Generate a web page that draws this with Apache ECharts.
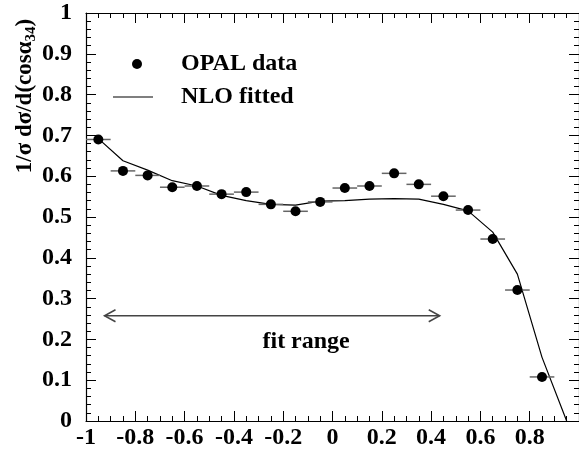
<!DOCTYPE html>
<html>
<head>
<meta charset="utf-8">
<script src="https://cdn.jsdelivr.net/npm/echarts@6/dist/echarts.min.js"></script>
<style>
html,body{margin:0;padding:0;background:#fff;}
#chart{width:579px;height:450px;}
</style>
</head>
<body>
<div id="chart"></div>
<script>
// ---- data ----
var binCenters = [-0.95,-0.85,-0.75,-0.65,-0.55,-0.45,-0.35,-0.25,-0.15,-0.05,0.05,0.15,0.25,0.35,0.45,0.55,0.65,0.75,0.85];
var opalValues = [0.690,0.613,0.602,0.573,0.576,0.556,0.561,0.531,0.514,0.537,0.571,0.576,0.607,0.580,0.551,0.517,0.446,0.321,0.108];
var binHalfWidth = 0.05;
var nloX = [-0.95,-0.85,-0.75,-0.65,-0.55,-0.45,-0.35,-0.25,-0.15,-0.05,0.05,0.15,0.25,0.35,0.45,0.55,0.65,0.75,0.85,0.95];
var nloValues = [0.692,0.638,0.615,0.589,0.576,0.553,0.540,0.531,0.529,0.539,0.540,0.544,0.545,0.544,0.531,0.515,0.463,0.360,0.156,0.0];
var fitRange = [-0.925, 0.435];
var fitArrowY = 0.258;
var fitLabel = 'fit range';
var fitLabelPos = [-0.107, 0.193];
var xTickLabels = ['-1','-0.8','-0.6','-0.4','-0.2','0','0.2','0.4','0.6','0.8'];
var yTickLabels = ['0','0.1','0.2','0.3','0.4','0.5','0.6','0.7','0.8','0.9','1'];
var seriesNames = ['OPAL data','NLO fitted'];
var yTitle = '{a|1/σ dσ/d(cosα}{s|34}{a|)}';

var FONT = "'Liberation Serif','Times New Roman',serif";

var opalData = binCenters.map(function(x,i){ return [x, opalValues[i]]; });
var nloData = nloX.map(function(x,i){ return [x, nloValues[i]]; });

function fmtX(v){
  var s = String(Math.round(v*10)/10);
  return xTickLabels.indexOf(s) >= 0 ? s : '';
}
function fmtY(v){
  var s = String(Math.round(v*10)/10);
  return yTickLabels.indexOf(s) >= 0 ? s : '';
}

var chart = echarts.init(document.getElementById('chart'), null, {renderer:'canvas'});

function axisBase(extra){
  var base = {
    type:'value',
    axisLine:{show:true, onZero:false, lineStyle:{color:'#000', width:1.2}},
    axisTick:{show:true, inside:true, length:10, lineStyle:{color:'#000', width:1}},
    splitLine:{show:false},
    minorSplitLine:{show:false}
  };
  return Object.assign(base, extra);
}

var option = {
  animation:false,
  backgroundColor:'#fff',
  grid:{left:86, right:-4, top:13, bottom:28, containLabel:false},
  xAxis:[
    axisBase({
      min:-1, max:1, interval:0.2, position:'bottom',
      minorTick:{show:true, splitNumber:4, length:5, lineStyle:{color:'#000', width:1}},
      axisLabel:{show:true, margin:5, color:'#000', fontFamily:FONT, fontWeight:'bold', fontSize:24, formatter:fmtX, showMaxLabel:false}
    }),
    axisBase({
      min:-1, max:1, interval:0.2, position:'top',
      minorTick:{show:true, splitNumber:4, length:5, lineStyle:{color:'#000', width:1}},
      axisLabel:{show:false}
    })
  ],
  yAxis:[
    axisBase({
      min:0, max:1, interval:0.1, position:'left',
      minorTick:{show:true, splitNumber:5, length:5, lineStyle:{color:'#000', width:1}},
      axisLabel:{show:true, margin:14, color:'#000', fontFamily:FONT, fontWeight:'bold', fontSize:24, formatter:fmtY}
    }),
    axisBase({
      min:0, max:1, interval:0.1, position:'right',
      minorTick:{show:true, splitNumber:5, length:5, lineStyle:{color:'#000', width:1}},
      axisLabel:{show:false}
    })
  ],
  graphic:[
    {
      type:'text', x:25, y:96, rotation:Math.PI/2,
      style:{
        text:yTitle, align:'center', verticalAlign:'middle', fill:'#000',
        rich:{
          a:{fontFamily:FONT, fontWeight:'bold', fontSize:23, fill:'#000'},
          s:{fontFamily:FONT, fontWeight:'bold', fontSize:15, fill:'#000', padding:[12,0,0,0]}
        }
      }
    },
    {type:'circle', shape:{cx:137, cy:64, r:5}, style:{fill:'#000'}},
    {type:'text', x:181, y:64, style:{text:seriesNames[0], fill:'#000', fontFamily:FONT, fontWeight:'bold', fontSize:24, align:'left', verticalAlign:'middle'}},
    {type:'line', shape:{x1:113, y1:97, x2:153, y2:97}, style:{stroke:'#000', lineWidth:1.2}},
    {type:'text', x:181, y:97, style:{text:seriesNames[1], fill:'#000', fontFamily:FONT, fontWeight:'bold', fontSize:24, align:'left', verticalAlign:'middle'}}
  ],
  series:[
    {
      name:seriesNames[1], type:'line', data:nloData, showSymbol:false, symbol:'none',
      lineStyle:{color:'#000', width:1.2}, itemStyle:{color:'#000'}, z:2
    },
    {
      name:'errbars', type:'custom', data:opalData, z:3,
      renderItem:function(params, api){
        var x = api.value(0), y = api.value(1);
        var p1 = api.coord([x-binHalfWidth, y]);
        var p2 = api.coord([x+binHalfWidth, y]);
        return {type:'line', shape:{x1:p1[0], y1:p1[1], x2:p2[0], y2:p2[1]},
                style:{stroke:'#666', lineWidth:1.5}};
      }
    },
    {
      name:seriesNames[0], type:'scatter', data:opalData, symbol:'circle', symbolSize:10,
      itemStyle:{color:'#000', opacity:1}, z:4
    },
    {
      name:'fitrange', type:'custom', data:[[fitRange[0], fitRange[1], fitArrowY]], z:3,
      renderItem:function(params, api){
        var a = api.coord([api.value(0), api.value(2)]);
        var b = api.coord([api.value(1), api.value(2)]);
        var t = api.coord(fitLabelPos);
        var st = {stroke:'#444', lineWidth:1.5, fill:null};
        return {type:'group', children:[
          {type:'line', shape:{x1:a[0], y1:a[1], x2:b[0], y2:b[1]}, style:st},
          {type:'polyline', shape:{points:[[a[0]+11, a[1]-6],[a[0], a[1]],[a[0]+11, a[1]+6]]}, style:st},
          {type:'polyline', shape:{points:[[b[0]-11, b[1]-6],[b[0], b[1]],[b[0]-11, b[1]+6]]}, style:st},
          {type:'text', x:t[0], y:t[1], style:{text:fitLabel, fill:'#000', fontFamily:FONT, fontWeight:'bold', fontSize:24, align:'center', verticalAlign:'middle'}}
        ]};
      }
    }
  ]
};
chart.setOption(option);
</script>
</body>
</html>
